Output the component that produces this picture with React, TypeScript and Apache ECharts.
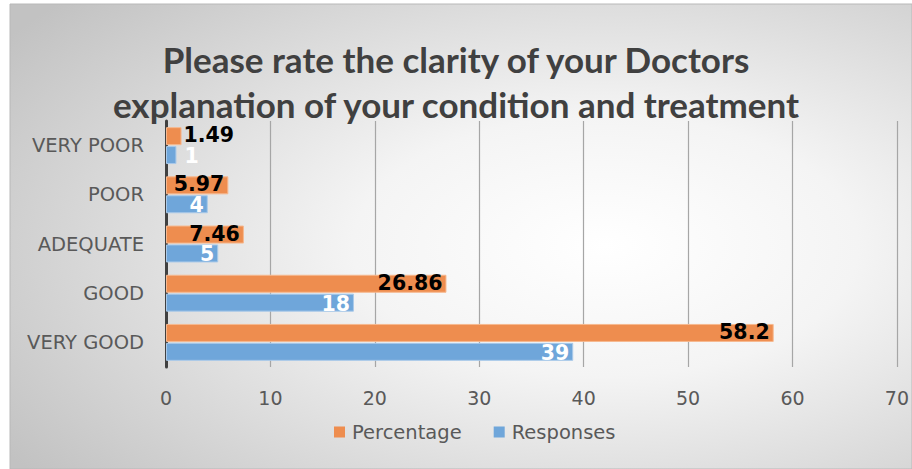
import React, { useEffect, useRef } from "react";
import * as echarts from "echarts";

const categories = ["VERY POOR", "POOR", "ADEQUATE", "GOOD", "VERY GOOD"];
const percentage = [1.49, 5.97, 7.46, 26.86, 58.2];
const responses = [1, 4, 5, 18, 39];
const xTicks = { min: 0, max: 70, interval: 10 };
const titleText = "Please rate the clarity of your Doctors\nexplanation of your condition and treatment";

const TITLE_FONT = "Lato, 'Noto Sans', sans-serif";
const FONT = "'DejaVu Sans', 'Noto Sans', sans-serif";

export default function App() {
  const ref = useRef<HTMLDivElement>(null);
  useEffect(() => {
    if (!ref.current) return;
    const chart = echarts.init(ref.current, null, { renderer: "svg" });
    const mk = (vals: number[], color: string, border: string, outDist: number, dy: number) =>
      vals.map((v) => ({
        value: v,
        itemStyle: { color, borderColor: border, borderWidth: 1 },
        label:
          v < 3
            ? { position: "right", distance: outDist, offset: [0, dy] }
            : { position: "insideRight", distance: 4, offset: [0, dy] },
      }));
    chart.setOption({
      animation: false,
      textStyle: { fontFamily: FONT },
      graphic: [
        {
          type: "rect",
          z: -10,
          silent: true,
          shape: { x: 10, y: 4, width: 902, height: 465 },
          style: {
            fill: new echarts.graphic.RadialGradient(0.66, 0.52, 0.8, [
              { offset: 0, color: "#ffffff" },
              { offset: 0.35, color: "#f4f4f4" },
              { offset: 1, color: "#c2c2c2" },
            ]),
            stroke: "#b8b8b8",
            lineWidth: 1,
          },
        },
      ],
      title: {
        text: titleText,
        left: "center",
        top: 31,
        textStyle: {
          fontFamily: TITLE_FONT,
          fontSize: 35,
          fontWeight: "bold",
          color: "#404040",
          lineHeight: 45,
        },
      },
      legend: {
        bottom: 22,
        left: 329,
        itemWidth: 11,
        itemHeight: 11,
        itemGap: 32,
        icon: "rect",
        textStyle: { fontFamily: FONT, fontSize: 19.5, color: "#595959", padding: [0, 0, 0, 2] },
        data: [
          { name: "Percentage", itemStyle: { color: "#EE8D4F" } },
          { name: "Responses", itemStyle: { color: "#6FA6DA" } },
        ],
      },
      grid: { left: 166, right: 15, top: 121, bottom: 102, containLabel: false },
      xAxis: {
        type: "value",
        min: xTicks.min,
        max: xTicks.max,
        interval: xTicks.interval,
        axisLine: { show: false },
        axisTick: { show: false },
        splitLine: { show: true, lineStyle: { color: "#a6a6a6", width: 1.2 } },
        axisLabel: { fontFamily: FONT, fontSize: 19, color: "#595959", margin: 21 },
      },
      yAxis: {
        type: "category",
        data: categories,
        inverse: true,
        axisLine: { show: true, lineStyle: { color: "#404040", width: 3 } },
        axisTick: { show: false },
        axisLabel: { fontFamily: FONT, fontSize: 19.5, color: "#595959", margin: 22 },
      },
      series: [
        {
          name: "Percentage",
          type: "bar",
          barWidth: 18,
          barGap: "5%",
          data: mk(percentage, "#EE8D4F", "#F6B88F", 2, -1),
          label: {
            show: true,
            fontFamily: FONT,
            fontSize: 20.5,
            fontWeight: "bold",
            lineHeight: 16,
            color: "#000000",
          },
        },
        {
          name: "Responses",
          type: "bar",
          barWidth: 18,
          barGap: "5%",
          data: mk(responses, "#6FA6DA", "#A9C9E9", 8, 1),
          label: {
            show: true,
            fontFamily: FONT,
            fontSize: 20.5,
            fontWeight: "bold",
            lineHeight: 16,
            color: "#ffffff",
          },
        },
      ],
    });
    return () => chart.dispose();
  }, []);
  return (
    <div
      ref={ref}
      style={{ position: "fixed", left: 0, top: 0, width: 912, height: 469, background: "#ffffff" }}
    />
  );
}
